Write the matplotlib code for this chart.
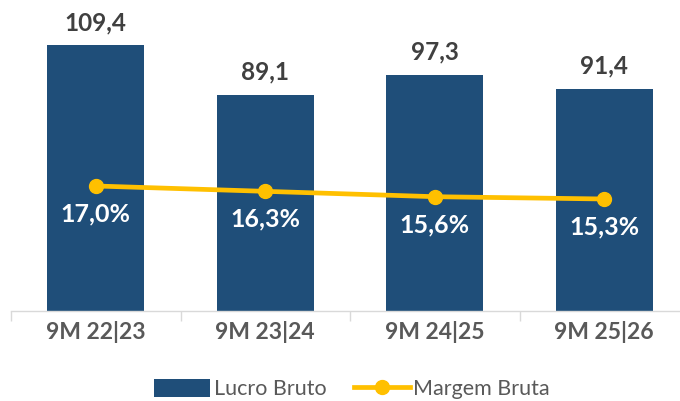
import matplotlib.pyplot as plt

# Dados
periodos = ['9M 22|23', '9M 23|24', '9M 24|25', '9M 25|26']
lucro_bruto = [109.4, 89.1, 97.3, 91.4]
margem_bruta = [17.0, 16.3, 15.6, 15.3]

cor_barra = '#1F4E79'
cor_linha = '#FFC000'
cinza = '#595959'
fonte = ['Lato', 'DejaVu Sans']

plt.rcParams['font.family'] = fonte

fig = plt.figure(figsize=(6.8, 4.01), dpi=100)
ax = fig.add_axes([11 / 680, 90 / 401, 678 / 680, 301 / 401])
ax2 = ax.twinx()

x = list(range(len(periodos)))
ax.bar(x, lucro_bruto, width=0.57, color=cor_barra, label='Lucro Bruto', zorder=2)
ax.set_xlim(-0.5, 3.5)
ax.set_ylim(0, 123.9)

# Rótulos das barras (formato brasileiro)
for xi, v in zip(x, lucro_bruto):
    ax.annotate(f'{v:.1f}'.replace('.', ','), (xi, v), xytext=(0, 8),
                textcoords='offset points', ha='center', va='bottom',
                fontsize=17.5, fontweight='bold', color='#404040')

ax2.plot(x, margem_bruta, color=cor_linha, lw=3.4, marker='o', ms=10,
         label='Margem Bruta', zorder=3)
ax2.set_ylim(0.66, 40.0)
for xi, v in zip(x, margem_bruta):
    ax2.annotate(f'{v:.1f}%'.replace('.', ','), (xi, v), xytext=(0, -20),
                 textcoords='offset points', ha='center', va='center',
                 fontsize=18, fontweight='bold', color='white')

# Eixos
for a in (ax, ax2):
    for s in ['top', 'right', 'left']:
        a.spines[s].set_visible(False)
    a.set_yticks([])
ax2.spines['bottom'].set_visible(False)
ax.spines['bottom'].set_color('#D9D9D9')
ax.spines['bottom'].set_linewidth(1)

ax.set_xticks(x)
ax.set_xticklabels(periodos, fontsize=16.5, fontweight='bold', color=cinza)
ax.tick_params(axis='x', which='major', length=0, pad=7)
ax.set_xticks([-0.5, 0.5, 1.5, 2.5, 3.5], minor=True)
ax.tick_params(axis='x', which='minor', length=7, color='#D9D9D9', width=1)

# Legenda
h1, l1 = ax.get_legend_handles_labels()
h2, l2 = ax2.get_legend_handles_labels()
leg = fig.legend(h1 + h2, l1 + l2, loc='center', bbox_to_anchor=(0.518, 12 / 401),
                 ncol=2, frameon=False, fontsize=15.5, handlelength=2.6,
                 handleheight=0.9, columnspacing=1.3, handletextpad=0.15)
for t in leg.get_texts():
    t.set_color(cinza)

fig.savefig('out.png', dpi=100)
